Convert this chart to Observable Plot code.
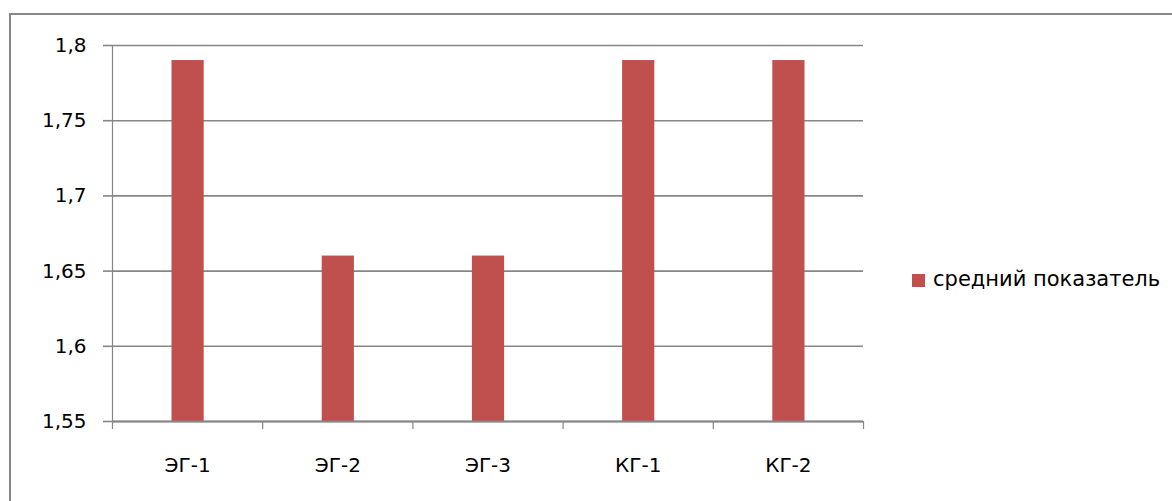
<!DOCTYPE html>
<html>
<head>
<meta charset="utf-8">
<script src="https://cdn.jsdelivr.net/npm/d3@7"></script>
<script src="https://cdn.jsdelivr.net/npm/@observablehq/plot@0.6"></script>
<style>
  html, body { margin: 0; padding: 0; background: #fff; }
  #wrap { position: relative; width: 1172px; height: 501px; overflow: hidden; font-family: "DejaVu Sans", sans-serif; }
  #border { position: absolute; left: 9px; top: 13px; width: 1200px; height: 600px;
            border-left: 2px solid #868686; border-top: 2px solid #868686; box-sizing: border-box; }
  #chart { position: absolute; left: 0; top: 0; }
  #legend { position: absolute; left: 912px; top: 267px; display: flex; align-items: center;
            font-size: 21px; color: #000; white-space: nowrap; }
  #legend .sw { width: 13px; height: 13px; background: #C0504D; margin-right: 8px; margin-top: 2px; }
</style>
</head>
<body>
<div id="wrap">
  <div id="border"></div>
  <div id="chart"></div>
  <div id="legend"><span class="sw"></span><span id="legend-label"></span></div>
</div>
<script>
const categories = ["ЭГ-1", "ЭГ-2", "ЭГ-3", "КГ-1", "КГ-2"];
const values = [1.79, 1.66, 1.66, 1.79, 1.79];
const yTicks = [1.55, 1.6, 1.65, 1.7, 1.75, 1.8];
const seriesName = "средний показатель";

const data = categories.map((c, i) => ({cat: c, i, value: values[i]}));
const gray = "#868686";
const fmt = d => String(d).replace(".", ",");

document.getElementById("legend-label").textContent = seriesName;

const chart = Plot.plot({
  width: 1172,
  height: 501,
  marginLeft: 112,
  marginRight: 309,
  marginTop: 45,
  marginBottom: 80,
  style: {fontFamily: "DejaVu Sans, sans-serif", fontSize: "20px", color: "#000", background: "transparent"},
  x: {domain: [0, categories.length], axis: null, label: null},
  y: {domain: [1.55, 1.8], axis: null, label: null},
  marks: [
    Plot.gridY(yTicks, {stroke: gray, strokeOpacity: 1, strokeWidth: 1.6}),
    Plot.axisY(yTicks, {label: null, tickSize: 9, tickPadding: 17, tickFormat: fmt, stroke: gray, strokeWidth: 1.6, fill: "#000", fontSize: 20}),
    Plot.rectY(data, {x1: "i", x2: d => d.i + 1, y1: 1.55, y2: "value", fill: "#C0504D", insetLeft: 59.5, insetRight: 58.5}),
    Plot.ruleX([0], {stroke: gray, strokeWidth: 1.2}),
    Plot.ruleY([1.55], {stroke: gray, strokeWidth: 2.2, x1: 0, x2: categories.length}),
    Plot.axisX(d3.range(categories.length + 1), {label: null, tickSize: 8, tickFormat: () => "", stroke: gray, strokeWidth: 1.2}),
    Plot.axisX(categories.map((c, i) => i + 0.5), {label: null, tickSize: 0, tickPadding: 36, tickFormat: d => categories[Math.floor(d)], fill: "#000", fontSize: 20})
  ]
});
document.getElementById("chart").appendChild(chart);
</script>
</body>
</html>
